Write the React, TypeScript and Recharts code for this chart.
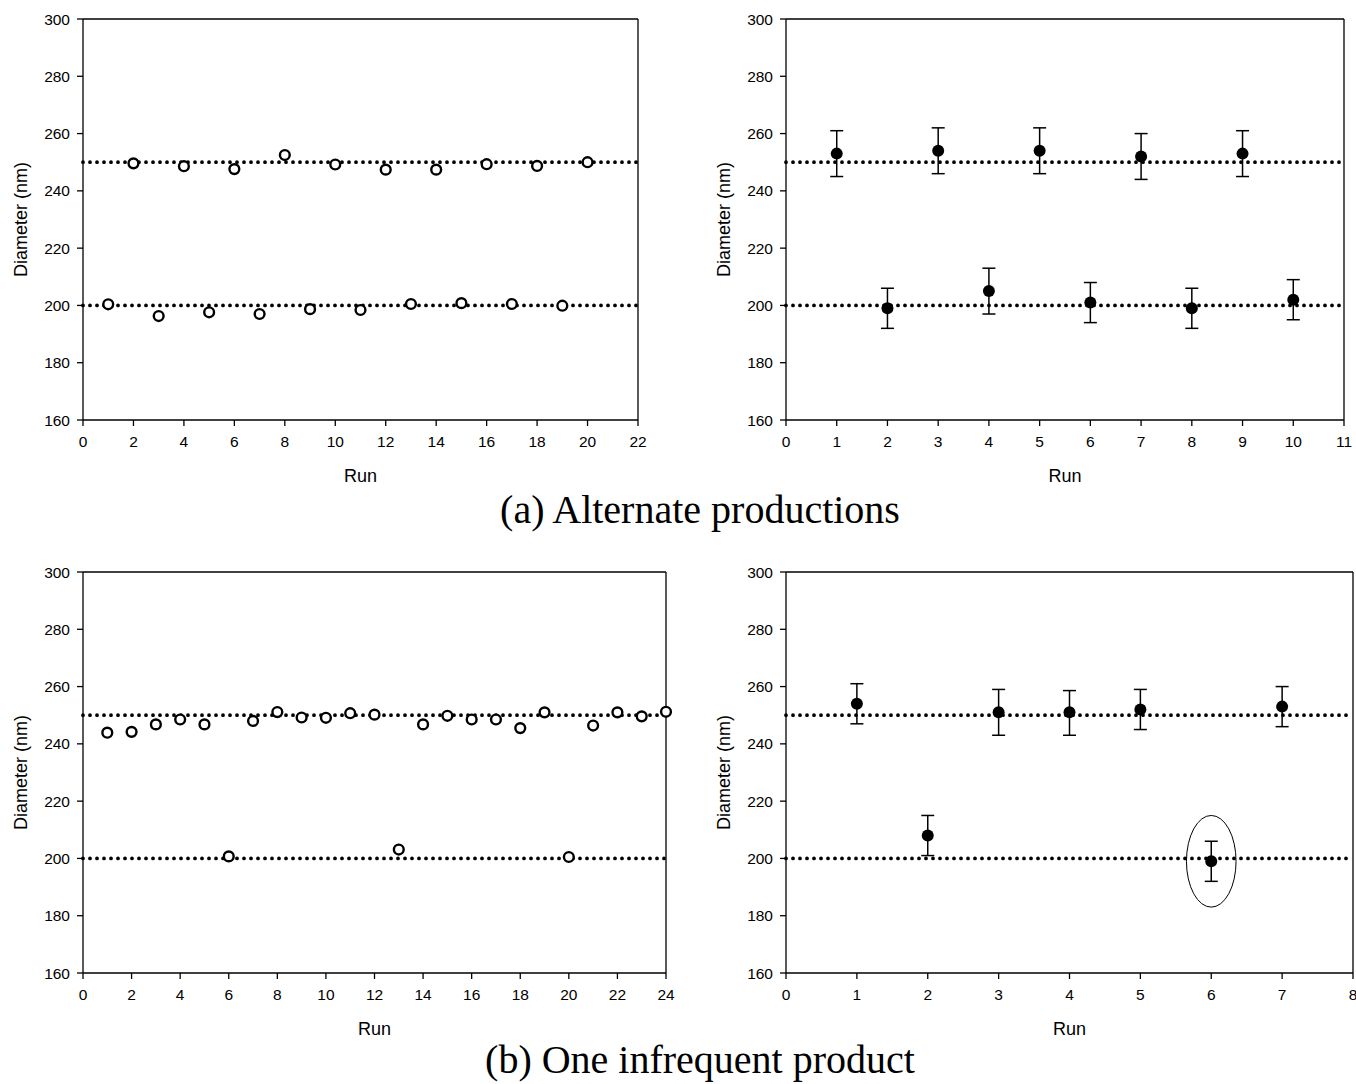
import React from 'react';
import {
  ScatterChart,
  Scatter,
  XAxis,
  YAxis,
  ReferenceLine,
  ReferenceArea,
  ErrorBar,
} from 'recharts';

// ---------- data ----------
const yTicks = [160, 180, 200, 220, 240, 260, 280, 300];
const targetDiameters = [200, 250];

// (a) left: alternate productions, individual runs
const runsA = [1, 2, 3, 4, 5, 6, 7, 8, 9, 10, 11, 12, 13, 14, 15, 16, 17, 18, 19, 20];
const diamA = [200.4, 249.6, 196.3, 248.6, 197.6, 247.6, 197.0, 252.5, 198.7, 249.2,
  198.4, 247.4, 200.5, 247.4, 200.8, 249.3, 200.5, 248.7, 199.9, 250.0];
const xTicksA = [0, 2, 4, 6, 8, 10, 12, 14, 16, 18, 20, 22];

// (a) right: alternate productions, averaged with error bars
const runsB = [1, 2, 3, 4, 5, 6, 7, 8, 9, 10];
const meanB = [253, 199, 254, 205, 254, 201, 252, 199, 253, 202];
const lowB = [245, 192, 246, 197, 246, 194, 244, 192, 245, 195];
const highB = [261, 206, 262, 213, 262, 208, 260, 206, 261, 209];
const xTicksB = [0, 1, 2, 3, 4, 5, 6, 7, 8, 9, 10, 11];

// (b) left: one infrequent product, individual runs
const runsC = [1, 2, 3, 4, 5, 6, 7, 8, 9, 10, 11, 12, 13, 14, 15, 16, 17, 18, 19, 20, 21, 22, 23, 24];
const diamC = [243.9, 244.2, 246.8, 248.5, 246.8, 200.7, 248.0, 251.1, 249.2, 249.1,
  250.7, 250.2, 203.1, 246.8, 249.8, 248.5, 248.5, 245.5, 251.0, 200.5,
  246.4, 251.0, 249.6, 251.2];
const xTicksC = [0, 2, 4, 6, 8, 10, 12, 14, 16, 18, 20, 22, 24];

// (b) right: one infrequent product, averaged with error bars
const runsD = [1, 2, 3, 4, 5, 6, 7];
const meanD = [254, 208, 251, 251, 252, 199, 253];
const lowD = [247, 201, 243, 243, 245, 192, 246];
const highD = [261, 215, 259, 258.6, 259, 206, 260];
const xTicksD = [0, 1, 2, 3, 4, 5, 6, 7, 8];

// highlighted run in (b) right (ellipse extent in data units)
const highlightX = [5.65, 6.35];
const highlightY = [183, 215];

// ---------- helpers ----------
const plain = (xs: number[], ys: number[]) => xs.map((x, i) => ({ x, y: ys[i] }));
const withErr = (xs: number[], m: number[], lo: number[], hi: number[]) =>
  xs.map((x, i) => ({ x, y: m[i], err: [m[i] - lo[i], hi[i] - m[i]] }));

const dataA = plain(runsA, diamA);
const dataB = withErr(runsB, meanB, lowB, highB);
const dataC = plain(runsC, diamC);
const dataD = withErr(runsD, meanD, lowD, highD);

const SANS = '"Liberation Sans", Arial, Helvetica, sans-serif';
const SERIF = '"Liberation Serif", "Times New Roman", Times, serif';
const axisStroke = { stroke: '#000', strokeWidth: 1.3 };
const tickStyle = { fill: '#000', fontSize: 15.5, fontFamily: SANS };

const OpenDot = (p: any) => (
  <circle cx={p.cx} cy={p.cy} r={4.9} fill="#fff" stroke="#000" strokeWidth={2.4} />
);
const FilledDot = (p: any) => <circle cx={p.cx} cy={p.cy} r={6} fill="#000" stroke="none" />;

const XTitle = (props: any) => {
  const vb = props.viewBox || {};
  return (
    <text
      x={vb.x + vb.width / 2}
      y={vb.y + 62}
      textAnchor="middle"
      fontSize={18}
      fontFamily={SANS}
      fill="#000"
    >
      Run
    </text>
  );
};

const YTitle = (props: any) => {
  const vb = props.viewBox || {};
  const x = vb.x + vb.width - 56;
  const y = vb.y + vb.height / 2;
  return (
    <text
      x={x}
      y={y}
      transform={`rotate(-90, ${x}, ${y})`}
      textAnchor="middle"
      fontSize={18}
      fontFamily={SANS}
      fill="#000"
    >
      Diameter (nm)
    </text>
  );
};

const EllipseShape = (p: any) => (
  <ellipse
    cx={p.x + p.width / 2}
    cy={p.y + p.height / 2}
    rx={Math.abs(p.width) / 2}
    ry={Math.abs(p.height) / 2}
    fill="none"
    stroke="#000"
    strokeWidth={1}
  />
);

type PanelProps = {
  left: number;
  top: number;
  plotRight: number;
  xTicks: number[];
  data: any[];
  filled?: boolean;
  highlight?: boolean;
};

function Panel({ left, top, plotRight, xTicks, data, filled, highlight }: PanelProps) {
  const marginRight = 24;
  const width = plotRight - left + marginRight;
  const xMax = xTicks[xTicks.length - 1];
  return (
    <div style={{ position: 'absolute', left, top }}>
      <ScatterChart
        width={width}
        height={500}
        margin={{ top: 19, right: marginRight, bottom: 0, left: 0 }}
      >
        <XAxis
          type="number"
          dataKey="x"
          domain={[0, xMax]}
          ticks={xTicks}
          interval={0}
          height={80}
          tickSize={6}
          tickMargin={10}
          axisLine={axisStroke}
          tickLine={axisStroke}
          tick={tickStyle}
          label={XTitle}
        />
        <YAxis
          type="number"
          dataKey="y"
          domain={[160, 300]}
          ticks={yTicks}
          interval={0}
          width={83}
          tickSize={6}
          tickMargin={7}
          axisLine={axisStroke}
          tickLine={axisStroke}
          tick={tickStyle}
          label={YTitle}
        />
        <ReferenceLine y={300} stroke="#000" strokeWidth={1.3} />
        <ReferenceLine x={xMax} stroke="#000" strokeWidth={1.3} />
        {targetDiameters.map((d) => (
          <ReferenceLine
            key={d}
            y={d}
            stroke="#000"
            strokeWidth={3.8}
            strokeDasharray="0 7"
            strokeLinecap="round"
          />
        ))}
        {highlight && (
          <ReferenceArea
            x1={highlightX[0]}
            x2={highlightX[1]}
            y1={highlightY[0]}
            y2={highlightY[1]}
            shape={EllipseShape}
          />
        )}
        <Scatter
          data={data}
          dataKey="y"
          isAnimationActive={false}
          shape={filled ? FilledDot : OpenDot}
        >
          {filled && (
            <ErrorBar
              dataKey="err"
              direction="y"
              width={6.5}
              stroke="#000"
              strokeWidth={1.5}
              isAnimationActive={false}
            />
          )}
        </Scatter>
      </ScatterChart>
    </div>
  );
}

export default function App() {
  return (
    <div
      style={{
        position: 'absolute',
        left: 0,
        top: 0,
        width: 1356,
        height: 1084,
        background: '#fff',
        overflow: 'hidden',
      }}
    >
      <Panel left={0} top={0} plotRight={638} xTicks={xTicksA} data={dataA} />
      <Panel left={703} top={0} plotRight={1344} xTicks={xTicksB} data={dataB} filled />
      <Panel left={0} top={553} plotRight={666} xTicks={xTicksC} data={dataC} />
      <Panel left={703} top={553} plotRight={1353} xTicks={xTicksD} data={dataD} filled highlight />
      <svg
        width={1356}
        height={1084}
        style={{ position: 'absolute', left: 0, top: 0, pointerEvents: 'none' }}
      >
        <text x={700} y={523} textAnchor="middle" fontSize={40} fontFamily={SERIF} fill="#000">
          (a) Alternate productions
        </text>
        <text x={700} y={1073} textAnchor="middle" fontSize={40} fontFamily={SERIF} fill="#000">
          (b) One infrequent product
        </text>
      </svg>
    </div>
  );
}
